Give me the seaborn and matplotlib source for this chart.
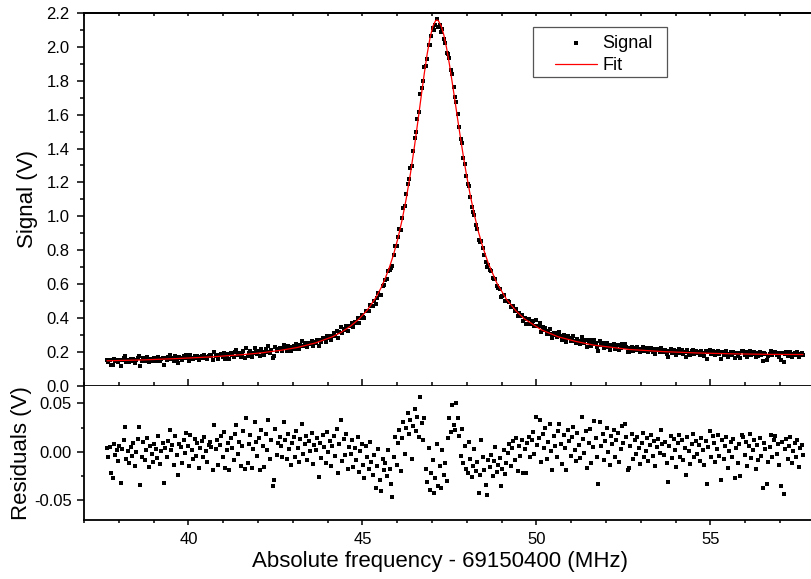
import numpy as np
import pandas as pd
import seaborn as sns
import matplotlib
matplotlib.use("Agg")
import matplotlib.pyplot as plt
from matplotlib.patches import Rectangle
from matplotlib.ticker import MultipleLocator, FormatStrFormatter

# frequency sweep: 501 points, 0.04 MHz apart
freq = np.linspace(37.66, 57.66, 501)

# measured signal (mV), one line per MHz
signal_mv = [
    151, 141, 152, 125, 121, 156, 145, 150, 138, 154, 117, 152, 161, 175, 141, 151, 138, 155, 146, 160, 136, 151, 164, 178, 118,
    147, 163, 144, 155, 167, 138, 160, 152, 143, 163, 158, 148, 172, 143, 157, 166, 125, 161, 151, 169, 180, 160, 166, 145, 175,
    157, 136, 169, 166, 149, 174, 161, 182, 169, 148, 181, 166, 157, 178, 161, 175, 149, 171, 178, 161, 183, 169, 158, 176, 179,
    175, 151, 199, 175, 184, 159, 180, 190, 169, 195, 159, 178, 186, 158, 192, 182, 170, 198, 208, 179, 191, 167, 188, 204, 166,
    220, 173, 194, 204, 171, 192, 220, 200, 187, 206, 174, 216, 201, 180, 215, 200, 232, 192, 213, 166, 174, 228, 202, 215, 222,
    215, 204, 242, 225, 206, 234, 220, 205, 229, 237, 218, 246, 230, 217, 243, 261, 232, 244, 254, 231, 253, 245, 265, 235, 257,
    255, 269, 232, 269, 256, 283, 274, 260, 296, 279, 293, 270, 295, 309, 293, 325, 283, 317, 347, 309, 337, 326, 352, 321, 350,
    350, 370, 348, 375, 369, 400, 372, 402, 417, 404, 400, 442, 441, 439, 478, 469, 468, 501, 480, 517, 550, 534, 538, 589, 596,
    624, 631, 680, 683, 692, 704, 772, 822, 823, 879, 926, 920, 992, 1050, 1059, 1130, 1192, 1219, 1285, 1298, 1388, 1463, 1500, 1576, 1616,
    1720, 1755, 1798, 1881, 1885, 1926, 2010, 2010, 2066, 2110, 2098, 2127, 2167, 2120, 2129, 2088, 2103, 2046, 2021, 1962, 1960, 1932, 1865, 1839, 1764,
    1703, 1675, 1604, 1530, 1456, 1431, 1343, 1311, 1239, 1188, 1176, 1115, 1056, 1028, 1009, 950, 925, 861, 850, 857, 812, 772, 732, 698, 712,
    683, 676, 635, 631, 628, 586, 577, 568, 526, 530, 537, 499, 498, 498, 496, 462, 471, 469, 440, 454, 411, 429, 411, 420, 379,
    397, 366, 391, 391, 364, 376, 379, 352, 385, 351, 353, 368, 319, 344, 326, 343, 307, 321, 336, 305, 281, 313, 300, 286, 310,
    315, 292, 269, 297, 281, 256, 295, 282, 265, 282, 291, 265, 251, 278, 265, 249, 290, 266, 251, 271, 231, 256, 270, 232, 248,
    271, 252, 230, 202, 265, 239, 250, 222, 241, 254, 228, 213, 242, 233, 246, 218, 234, 240, 209, 222, 245, 226, 245, 231, 196,
    197, 220, 231, 205, 224, 210, 226, 215, 197, 218, 228, 202, 208, 221, 196, 213, 222, 201, 215, 189, 208, 216, 201, 224, 209,
    198, 210, 188, 168, 205, 215, 191, 211, 200, 181, 206, 214, 191, 208, 187, 199, 171, 210, 195, 181, 202, 212, 187, 204, 191,
    200, 183, 206, 194, 178, 203, 158, 196, 212, 185, 207, 199, 179, 193, 207, 186, 160, 201, 181, 195, 204, 171, 189, 198, 183,
    201, 161, 192, 175, 195, 162, 204, 202, 184, 197, 172, 193, 204, 179, 188, 198, 168, 193, 177, 200, 182, 147, 194, 188, 152,
    174, 190, 202, 179, 197, 201, 183, 193, 171, 149, 195, 141, 188, 197, 176, 190, 199, 172, 185, 193, 179, 196, 168, 188, 191,
    181,
]

# fit residuals (mV), same points
residual_mv = [
    4, -6, 5, -22, -27, 8, -3, 2, -10, 6, -32, 3, 12, 26, -8, 1, -12, 5, -4, 9, -15, 0, 13, 26, -34,
    -5, 10, -9, 2, 14, -16, 6, -2, -11, 8, 3, -7, 16, -13, 1, 9, -32, 4, -6, 11, 22, 2, 7, -14, 16,
    -3, -24, 8, 5, -12, 12, -1, 19, 6, -15, 17, 2, -8, 13, -4, 9, -17, 4, 11, -6, 15, 1, -11, 7, 10,
    5, -19, 28, 3, 12, -14, 7, 16, -5, 20, -17, 2, 9, -19, 14, 4, -9, 18, 28, -2, 10, -15, 6, 21, -18,
    35, -12, 8, 17, -17, 3, 31, 10, -4, 14, -19, 22, 6, -16, 18, 2, 33, -8, 12, -36, -29, 24, -3, 9, 15,
    6, -6, 31, 12, -8, 18, 3, -14, 9, 15, -5, 21, 4, -11, 13, 29, -2, 8, 16, -9, 11, 1, 19, -13, 7,
    2, 14, -26, 9, -7, 17, 5, -12, 20, 0, 11, -15, 6, 16, -4, 24, -22, 8, 33, -10, 13, -3, 18, -18, 5,
    -2, 12, -16, 4, -9, 15, -21, 1, 8, -14, -27, 6, -5, -18, 10, -11, -24, -3, -38, -15, 3, -29, -41, -8, -19,
    -12, -25, 2, -18, -33, -47, -6, 15, -14, 9, 22, -20, 14, 31, -2, 25, 40, 18, 33, -8, 27, 44, 21, 36, 15,
    57, 30, 12, 35, -18, -31, 4, -40, -22, -9, -43, -27, 8, -35, -15, -38, 2, -24, -12, -30, 14, 35, 20, 48, 28,
    22, 50, 35, 16, -4, 24, -12, 6, -18, -22, 10, -8, -26, -15, 3, -20, -11, -43, -24, 12, -6, -19, -34, -45, -9,
    -16, -3, -25, -10, 5, -21, -14, -7, -35, -18, 2, -23, -12, -1, 8, -15, 4, 11, -9, 14, -20, 6, -4, 12, -22,
    3, -22, 9, 15, -6, 12, 20, -2, 36, 7, 14, 33, -11, 18, 4, 25, -8, 10, 29, 1, -19, 16, 6, -5, 21,
    29, 8, -13, 17, 4, -19, 22, 11, -4, 15, 26, 2, -10, 19, 7, -7, 36, 13, -1, 21, -17, 9, 24, -12, 5,
    32, 14, -6, -33, 31, 6, 18, -9, 11, 25, 0, -14, 16, 8, 22, -5, 12, 19, -11, 3, 27, 9, 29, 15, -19,
    -17, 6, 18, -8, 12, -2, 15, 4, -13, 9, 19, -6, 1, 14, -10, 7, 17, -4, 11, -15, 5, 13, -1, 22, 8,
    -3, 10, -12, -31, 6, 16, -7, 13, 2, -16, 9, 17, -5, 12, -9, 4, -24, 15, 1, -13, 8, 18, -6, 11, -2,
    7, -10, 14, 2, -14, 11, -33, 5, 21, -6, 16, 9, -11, 3, 17, -4, -29, 12, -8, 6, 15, -17, 1, 10, -5,
    13, -27, 4, -12, 8, -25, 17, 15, -3, 10, -15, 6, 18, -7, 2, 12, -18, 7, -9, 14, -4, -38, 9, 3, -33,
    -11, 5, 17, -6, 12, 16, -2, 8, -14, -36, 10, -44, 3, 13, -8, 6, 15, -12, 1, 9, -5, 12, -16, 4, 7,
    -3,
]

# fitted curve (MHz, mV)
fit_freq = [37.66, 38.66, 39.66, 40.66, 41.66, 42.14, 42.66, 43.14, 43.66, 44.14,
            44.38, 44.66, 44.90, 45.14, 45.38, 45.54, 45.66, 45.78, 45.90, 46.02,
            46.14, 46.26, 46.38, 46.50, 46.62, 46.70, 46.78, 46.86, 46.94, 47.02,
            47.10, 47.14, 47.18, 47.26, 47.34, 47.42, 47.50, 47.58, 47.66, 47.74,
            47.82, 47.90, 47.98, 48.10, 48.22, 48.34, 48.46, 48.62, 48.86, 49.14,
            49.42, 49.66, 50.14, 50.62, 51.14, 51.66, 52.66, 53.66, 54.66, 55.66,
            56.66, 57.66]
fit_mv = [147, 152, 160, 170, 185, 195, 209, 226, 253, 289,
          314, 352, 393, 446, 518, 579, 636, 701, 778, 870,
          978, 1105, 1252, 1419, 1601, 1725, 1846, 1957, 2050, 2119,
          2154, 2159, 2155, 2126, 2070, 1992, 1897, 1791, 1681, 1569,
          1460, 1355, 1257, 1123, 1006, 904, 818, 721, 607, 510,
          440, 394, 330, 289, 261, 239, 214, 201, 193, 188,
          185, 184]

df = pd.DataFrame({"freq": freq,
                   "signal": np.array(signal_mv) / 1000.0,
                   "resid": np.array(residual_mv) / 1000.0})
fit = pd.DataFrame({"freq": fit_freq, "volt": np.array(fit_mv) / 1000.0})

sns.set_style("ticks")
plt.rcParams["font.family"] = ["Liberation Sans", "DejaVu Sans"]
plt.rcParams["axes.unicode_minus"] = False
for k in ["xtick.color", "ytick.color", "axes.edgecolor", "text.color", "axes.labelcolor"]:
    plt.rcParams[k] = "black"

W, H = 811, 579
fig = plt.figure(figsize=(W / 100, H / 100), dpi=100)
ax = fig.add_axes([84 / W, 1 - 385.7 / H, 727 / W, 372.7 / H])
axr = fig.add_axes([84 / W, 1 - 520 / H, 727 / W, 134.3 / H], sharex=ax)

sns.scatterplot(data=df, x="freq", y="signal", ax=ax, marker="s", s=7,
                color="black", linewidth=0, label="Signal", zorder=2)
sns.lineplot(data=fit, x="freq", y="volt", ax=ax, color="red", lw=0.9,
             estimator=None, sort=False, label="Fit", zorder=3)
sns.scatterplot(data=df, x="freq", y="resid", ax=axr, marker="s", s=7,
                color="black", linewidth=0, zorder=2)

ax.set_xlim(37.0, 57.89)
ax.set_ylim(0, 2.2)
axr.set_ylim(-0.0707, 0.0683)

for a in (ax, axr):
    a.set_xlabel("")
    a.set_ylabel("")
    a.spines["right"].set_visible(False)
    for s in a.spines.values():
        s.set_linewidth(1.3)
axr.spines["top"].set_visible(False)

ax.xaxis.set_major_locator(MultipleLocator(5))
ax.xaxis.set_minor_locator(MultipleLocator(1))
ax.yaxis.set_major_locator(MultipleLocator(0.2))
ax.yaxis.set_minor_locator(MultipleLocator(0.1))
ax.yaxis.set_major_formatter(FormatStrFormatter("%.1f"))
axr.yaxis.set_major_locator(MultipleLocator(0.05))
axr.yaxis.set_minor_locator(MultipleLocator(0.025))
axr.yaxis.set_major_formatter(FormatStrFormatter("%.2f"))

# top panel: x ticks on its lower edge, crossing the line
ax.tick_params(axis="x", which="major", direction="inout", length=9.4, width=1.1,
               top=False, labelbottom=False)
ax.tick_params(axis="x", which="minor", direction="in", length=2.9, width=1.1, top=False)
ax.tick_params(axis="y", which="major", direction="out", length=5, width=1.1,
               labelsize=12, pad=5.5, right=False)
ax.tick_params(axis="y", which="minor", direction="out", length=2.9, width=1.1, right=False)

# small inward ticks along the top edge
sec = ax.secondary_xaxis("top")
sec.xaxis.set_major_locator(MultipleLocator(1))
sec.tick_params(axis="x", which="both", direction="in", length=2.2, width=1.1, labeltop=False)
sec.spines["top"].set_linewidth(1.3)

axr.tick_params(axis="x", which="major", direction="out", length=3.6, width=1.1,
                labelsize=12, pad=5, top=False)
axr.tick_params(axis="x", which="minor", direction="out", length=2.2, width=1.1, top=False)
axr.tick_params(axis="y", which="major", direction="out", length=5, width=1.1,
                labelsize=12, pad=3.6, right=False)
axr.tick_params(axis="y", which="minor", direction="out", length=2.2, width=1.1, right=False)

# legend: box drawn by hand, entries placed inside it
ax.add_patch(Rectangle((533 / W, 1 - 77 / H), 134 / W, 50 / H, transform=fig.transFigure,
                       facecolor="white", edgecolor="#555555", linewidth=0.9, zorder=5,
                       clip_on=False))
handles, labels = ax.get_legend_handles_labels()
leg = ax.legend(handles, labels, loc="upper left", bbox_to_anchor=(555 / W, 1 - 34.5 / H),
                bbox_transform=fig.transFigure, borderaxespad=0, frameon=False,
                fontsize=13, handlelength=2.3, handletextpad=0.33,
                borderpad=0, labelspacing=0.3)
leg.set_zorder(6)

fig.text(28 / W, 1 - 199.5 / H, "Signal (V)", rotation=90, ha="center", va="center", fontsize=16)
fig.text(22 / W, 1 - 453 / H, "Residuals (V)", rotation=90, ha="center", va="center", fontsize=16)
fig.text(440 / W, 1 - 561 / H, "Absolute frequency - 69150400 (MHz)", ha="center", va="center", fontsize=16)

fig.savefig("out.png", dpi=100)
